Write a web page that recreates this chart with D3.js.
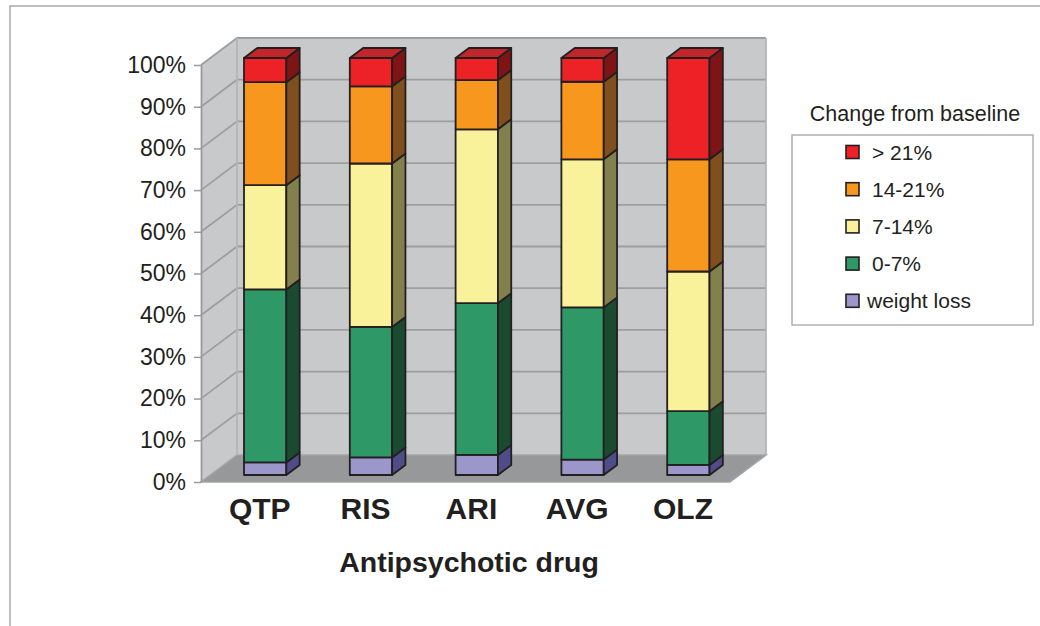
<!DOCTYPE html>
<html>
<head>
<meta charset="utf-8">
<script src="https://cdn.jsdelivr.net/npm/d3@7/dist/d3.min.js"></script>
<style>
  html, body { margin: 0; padding: 0; background: #ffffff; }
  svg { display: block; font-family: "Liberation Sans", Arial, Helvetica, sans-serif; }
  text { fill: #231f20; }
</style>
</head>
<body>
<svg id="chart" width="1040" height="626"></svg>
<script>
// Weight change from baseline by antipsychotic drug (share of patients, %)
const categories = ["QTP", "RIS", "ARI", "AVG", "OLZ"];
const seriesNames = ["weight loss", "0-7%", "7-14%", "14-21%", "> 21%"];
const weightLoss = [3.0, 4.2, 4.8, 3.7, 2.4];
const gain0to7   = [41.5, 31.3, 36.4, 36.5, 12.9];
const gain7to14  = [25.0, 39.2, 41.7, 35.5, 33.5];
const gain14to21 = [24.7, 18.5, 11.8, 18.6, 26.9];
const gainOver21 = [5.8, 6.8, 5.3, 5.7, 24.3];
const tickValues = [0, 10, 20, 30, 40, 50, 60, 70, 80, 90, 100];
const xTitle = "Antipsychotic drug";
const legendTitle = "Change from baseline";

// face colours per series: front, side, top
const palette = {
  "weight loss": { front: "#9b97ca", side: "#4e4c89", top: "#7a77b5" },
  "0-7%":        { front: "#2e9866", side: "#1a4b31", top: "#237a50" },
  "7-14%":       { front: "#faf29b", side: "#82804d", top: "#dcd57e" },
  "14-21%":      { front: "#f7971e", side: "#7f4f1e", top: "#c97a1c" },
  "> 21%":       { front: "#ec2227", side: "#7e1416", top: "#c1262a" }
};

const svg = d3.select("#chart");

// tabular rows for the stack layout
const rows = categories.map((c, i) => ({
  drug: c,
  "weight loss": weightLoss[i],
  "0-7%": gain0to7[i],
  "7-14%": gain7to14[i],
  "14-21%": gain14to21[i],
  "> 21%": gainOver21[i]
}));
const stacked = d3.stack().keys(seriesNames)(rows);

// front plane scales
const y = d3.scaleLinear().domain([0, 100]).range([482, 65]);
const x = d3.scaleBand().domain(categories).range([201, 730])
  .paddingInner(0.6).paddingOuter(0.3).align(0.53);

// oblique depth projection (z = 0 front plane, z = 1 back wall)
const DX = 36, DY = 27;
const P = (xf, v, z) => [xf + z * DX, y(v) - z * DY];
const poly = pts => pts.map(p => p.join(",")).join(" ");

const xL = x.range()[0], xR = x.range()[1];

// ---- walls and floor ----
const walls = svg.append("g");
walls.append("polygon")   // back wall
  .attr("points", poly([P(xL, 0, 1), P(xR, 0, 1), P(xR, 100, 1), P(xL, 100, 1)]))
  .attr("fill", "#c8c9cb");
walls.append("polygon")   // side wall
  .attr("points", poly([P(xL, 0, 0), P(xL, 0, 1), P(xL, 100, 1), P(xL, 100, 0)]))
  .attr("fill", "#c8c9cb");
walls.append("polygon")   // floor
  .attr("points", poly([P(xL, 0, 0), P(xR, 0, 0), P(xR, 0, 1), P(xL, 0, 1)]))
  .attr("fill", "#97989a")
  .attr("stroke", "#a3a4a6").attr("stroke-width", 1.5);

// gridlines on side wall and back wall
const grid = svg.append("g").attr("stroke", "#9d9ea0").attr("stroke-width", 1.8).attr("fill", "none");
tickValues.filter(t => t > 0).forEach(t => {
  grid.append("polyline")
    .attr("points", poly([P(xL, t, 0), P(xL, t, 1), P(xR, t, 1)]));
});
grid.append("line")   // right edge of back wall
  .attr("x1", P(xR, 0, 1)[0]).attr("y1", P(xR, 0, 1)[1])
  .attr("x2", P(xR, 100, 1)[0]).attr("y2", P(xR, 100, 1)[1])
  .attr("stroke", "#b4b5b7");
grid.append("line")   // wall corner
  .attr("x1", P(xL, 0, 1)[0]).attr("y1", P(xL, 0, 1)[1])
  .attr("x2", P(xL, 100, 1)[0]).attr("y2", P(xL, 100, 1)[1])
  .attr("stroke", "#b4b5b7");

// ---- value axis ----
const axis = svg.append("g")
  .attr("transform", `translate(${xL},0)`)
  .call(d3.axisLeft(y).tickValues(tickValues).tickSize(7).tickSizeOuter(0)
    .tickPadding(8).tickFormat(d => d + "%"));
axis.select(".domain").attr("stroke", "#9a9a9a").attr("stroke-width", 1.8);
axis.selectAll(".tick line").attr("stroke", "#9a9a9a").attr("stroke-width", 1.5);
axis.selectAll(".tick text")
  .attr("font-size", 23).attr("font-family", "Liberation Sans, Arial, sans-serif")
  .style("fill", "#231f20");

// ---- 3D stacked columns ----
const z0 = 0.26, z1 = 0.63;
const bars = svg.append("g")
  .attr("stroke", "#231f20").attr("stroke-width", 1.8).attr("stroke-linejoin", "round");

categories.forEach((cat, ci) => {
  const xl = x(cat), xr = x(cat) + x.bandwidth();
  const g = bars.append("g");
  stacked.forEach((layer, li) => {
    const [v0, v1] = layer[ci];
    const col = palette[layer.key];
    g.append("polygon")
      .attr("points", poly([P(xl, v0, z0), P(xr, v0, z0), P(xr, v1, z0), P(xl, v1, z0)]))
      .attr("fill", col.front);
    g.append("polygon")
      .attr("points", poly([P(xr, v0, z0), P(xr, v0, z1), P(xr, v1, z1), P(xr, v1, z0)]))
      .attr("fill", col.side);
    if (li === stacked.length - 1) {
      g.append("polygon")
        .attr("points", poly([P(xl, v1, z0), P(xr, v1, z0), P(xr, v1, z1), P(xl, v1, z1)]))
        .attr("fill", col.top);
    }
  });
});

// ---- category labels and axis title ----
svg.append("g").selectAll("text")
  .data(categories)
  .join("text")
  .attr("x", d => x(d) + x.bandwidth() / 2 + 4)
  .attr("y", 519)
  .attr("text-anchor", "middle")
  .attr("font-size", 30).attr("font-weight", "bold")
  .text(d => d);

svg.append("text")
  .attr("x", 469).attr("y", 572)
  .attr("text-anchor", "middle")
  .attr("font-size", 28.5).attr("font-weight", "bold")
  .text(xTitle);

// ---- legend ----
const legend = svg.append("g");
legend.append("text")
  .attr("x", 915).attr("y", 121)
  .attr("text-anchor", "middle")
  .attr("font-size", 21.5)
  .text(legendTitle);
legend.append("rect")
  .attr("x", 792).attr("y", 135).attr("width", 241).attr("height", 190)
  .attr("fill", "#ffffff").attr("stroke", "#b0b0b0").attr("stroke-width", 1.5);

const legendOrder = seriesNames.slice().reverse();
const item = legend.selectAll("g.item")
  .data(legendOrder)
  .join("g")
  .attr("class", "item")
  .attr("transform", (d, i) => `translate(846,${152 + i * 37.2})`);
item.append("rect")
  .attr("x", 0).attr("y", -6.5).attr("width", 13).attr("height", 13)
  .attr("fill", d => palette[d].front)
  .attr("stroke", "#231f20").attr("stroke-width", 1.6);
item.append("text")
  .attr("x", d => d === "weight loss" ? 21 : 26)
  .attr("y", 7.5)
  .attr("font-size", 21)
  .text(d => d);

// ---- outer frame ----
svg.append("rect")
  .attr("x", 10).attr("y", 6).attr("width", 1100).attr("height", 700)
  .attr("fill", "none").attr("stroke", "#aaaaaa").attr("stroke-width", 1.5);
</script>
</body>
</html>
